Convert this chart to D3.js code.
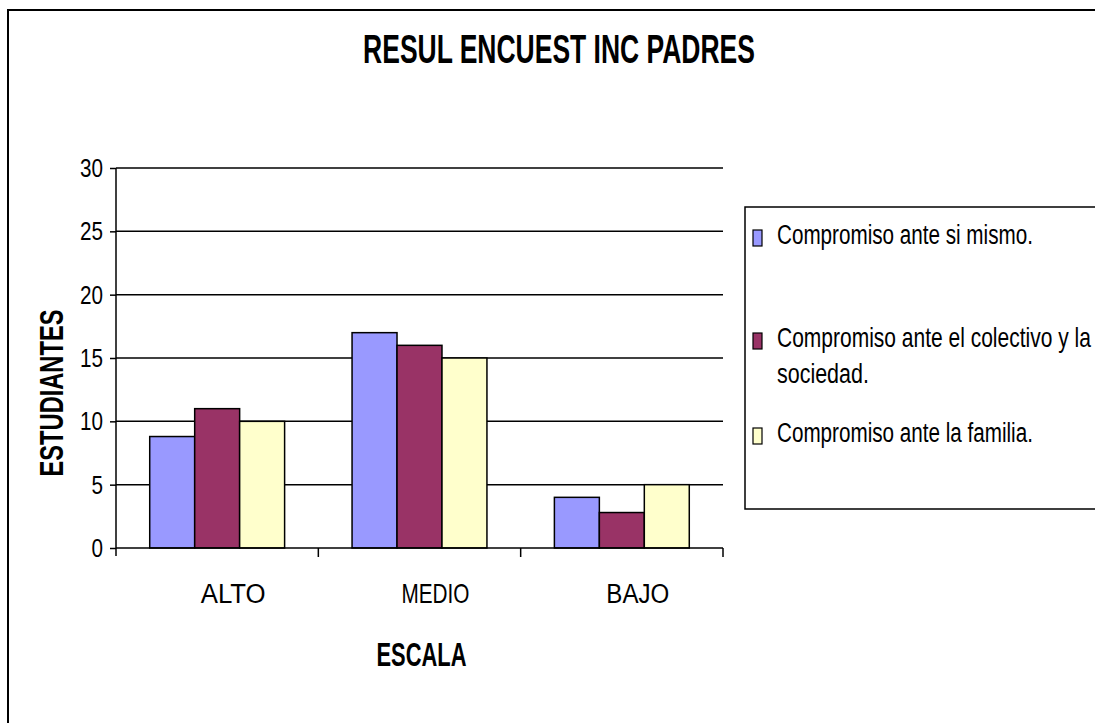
<html>

<head>
    <meta charset="utf-8" />
    <title>RESUL ENCUEST INC PADRES</title>
    <script src="https://d3js.org/d3.v7.min.js"></script>
    <style>
        html, body {
            margin: 0;
            overflow: hidden;
            background: #fff;
            font-family: "Liberation Sans", Arial, Helvetica, sans-serif;
        }

        svg {
            display: block;
        }
    </style>
</head>

<body>
    <svg id="chart" width="1095" height="723"></svg>
    <script>
        // data
        const categories = ["ALTO", "MEDIO", "BAJO"]
        const seriesNames = [
            "Compromiso ante si mismo.",
            "Compromiso ante el colectivo y la sociedad.",
            "Compromiso ante la familia."
        ]
        const siMismo = [8.8, 17, 4]
        const colectivo = [11, 16, 2.8]
        const familia = [10, 15, 5]
        const yTicks = [0, 5, 10, 15, 20, 25, 30]
        const colors = ["#9999FF", "#993366", "#FFFFCC"]

        const seriesValues = [siMismo, colectivo, familia]

        const svg = d3.select("svg#chart")
        const width = +svg.attr("width")
        const height = +svg.attr("height")
        const plot = { left: 116, right: 723, top: 168, bottom: 548 }

        // squeeze a text horizontally to a target width (the original font is very condensed)
        const squeeze = function (sel, x, y, w) {
            sel.attr("x", 0).attr("y", 0)
            const k = Math.min(1, w / sel.node().getComputedTextLength())
            sel.attr("transform", `translate(${x},${y}) scale(${k},1)`)
            return sel
        }

        // outer chart border: only left and top edges show, the rest runs off the page
        svg.append("path")
            .attr("d", `M8,${height}V10H${width}`)
            .attr("fill", "none").attr("stroke", "#000").attr("stroke-width", 2)

        const x0 = d3.scaleBand().domain(categories).range([plot.left, plot.right]).padding(0)
        const x1 = d3.scaleBand().domain(d3.range(seriesNames.length))
            .range([0, x0.bandwidth()]).paddingInner(0).paddingOuter(0.75)
        const y = d3.scaleLinear().domain([0, 30]).range([plot.bottom, plot.top])

        // horizontal gridlines
        svg.append("g").selectAll("line.grid").data(yTicks.filter(d => d > 0))
            .join("line").attr("class", "grid")
            .attr("x1", plot.left).attr("x2", plot.right)
            .attr("y1", d => y(d)).attr("y2", d => y(d))
            .attr("stroke", "#000").attr("stroke-width", 1.5)

        // bars
        const groups = svg.append("g").selectAll("g.cat").data(categories)
            .join("g").attr("class", "cat")
            .attr("transform", d => `translate(${x0(d)},0)`)

        groups.selectAll("rect").data((c, ci) => seriesValues.map((vals, si) => ({ si, v: vals[ci] })))
            .join("rect")
            .attr("x", d => x1(d.si))
            .attr("width", x1.bandwidth())
            .attr("y", d => y(d.v))
            .attr("height", d => y(0) - y(d.v))
            .attr("fill", d => colors[d.si])
            .attr("stroke", "#000").attr("stroke-width", 1.5)

        // y axis
        const yAxis = svg.append("g").attr("transform", `translate(${plot.left},0)`)
            .call(d3.axisLeft(y).tickValues(yTicks).tickSize(6).tickFormat(""))
        yAxis.select(".domain").attr("d", `M0,${plot.top}V${plot.bottom + 8}`)
            .attr("stroke", "#000").attr("stroke-width", 1.5)
        yAxis.selectAll(".tick line").attr("stroke", "#000").attr("stroke-width", 1.5)

        svg.append("g").selectAll("text.ytick").data(yTicks)
            .join("text").attr("class", "ytick")
            .attr("text-anchor", "end")
            .attr("font-size", 26)
            .text(d => d)
            .each(function (d) {
                squeeze(d3.select(this), 103, y(d) + 9, String(d).length * 11.5)
            })

        // x axis
        const xAxis = svg.append("g").attr("transform", `translate(0,${plot.bottom})`)
            .call(d3.axisBottom(x0).tickSize(0).tickFormat(""))
        xAxis.select(".domain").attr("d", `M${plot.left},0H${plot.right}`)
            .attr("stroke", "#000").attr("stroke-width", 1.5)
        xAxis.selectAll(".tick").remove()
        xAxis.selectAll("line.sep").data(categories.map(c => x0(c) + x0.bandwidth()))
            .join("line").attr("class", "sep")
            .attr("x1", d => d).attr("x2", d => d)
            .attr("y1", 0).attr("y2", 9)
            .attr("stroke", "#000").attr("stroke-width", 1.5)

        const catWidths = { "ALTO": 65, "MEDIO": 68, "BAJO": 63 }
        svg.append("g").selectAll("text.cat").data(categories)
            .join("text").attr("class", "cat")
            .attr("text-anchor", "middle")
            .attr("font-size", 28)
            .text(d => d)
            .each(function (d) {
                squeeze(d3.select(this), x0(d) + x0.bandwidth() / 2 + 16, 603, catWidths[d])
            })

        // titles
        squeeze(svg.append("text")
            .attr("text-anchor", "middle")
            .attr("font-size", 40).attr("font-weight", "bold")
            .text("RESUL ENCUEST INC PADRES"), 559, 63, 392)

        squeeze(svg.append("text")
            .attr("text-anchor", "middle")
            .attr("font-size", 33).attr("font-weight", "bold")
            .text("ESCALA"), (plot.left + plot.right) / 2 + 2, 666, 90)

        const yTitle = svg.append("text")
            .attr("text-anchor", "middle")
            .attr("font-size", 33).attr("font-weight", "bold")
            .text("ESTUDIANTES")
        const kY = 167 / yTitle.node().getComputedTextLength()
        yTitle.attr("transform", `translate(63,393) rotate(-90) scale(${kY},1)`)

        // legend
        const legend = svg.append("g")
        legend.append("path")
            .attr("d", `M${width},207H745V509H${width}`)
            .attr("fill", "#fff").attr("stroke", "#000").attr("stroke-width", 1.5)

        const legendRows = [
            { lines: ["Compromiso ante si mismo."], widths: [256], base: 244 },
            { lines: ["Compromiso ante el colectivo y la", "sociedad."], widths: [314, 92], base: 347 },
            { lines: ["Compromiso ante la familia."], widths: [256], base: 442 }
        ]

        const rows = legend.selectAll("g.row").data(legendRows)
            .join("g").attr("class", "row")
        rows.append("rect")
            .attr("x", 753).attr("y", d => d.base - 14)
            .attr("width", 9).attr("height", 16)
            .attr("fill", (d, i) => colors[i])
            .attr("stroke", "#000").attr("stroke-width", 1.2)
        rows.each(function (d) {
            d3.select(this).selectAll("text").data(d.lines)
                .join("text")
                .attr("font-size", 28)
                .text(t => t)
                .each(function (t, j) {
                    squeeze(d3.select(this), 777, d.base + j * 36, d.widths[j])
                })
        })
    </script>
</body>

</html>
